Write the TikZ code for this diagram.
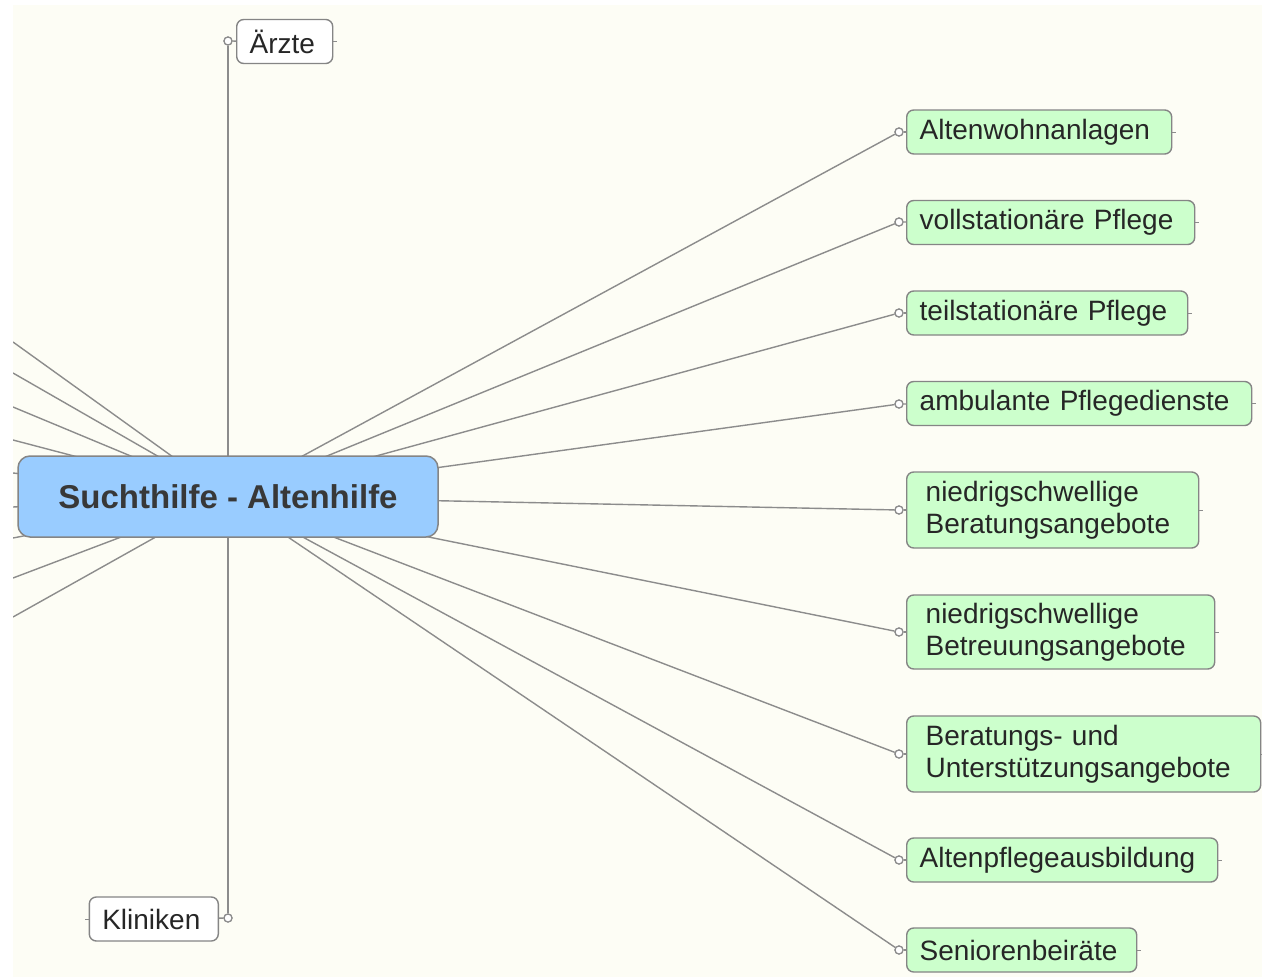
\documentclass[tikz,border=0pt]{standalone}
\usepackage{fontspec}
\setmainfont{Liberation Sans}
\definecolor{bgcream}{HTML}{FDFDF5}
\definecolor{linegray}{HTML}{8C8C8C}
\definecolor{boxgray}{HTML}{858585}
\definecolor{greenfill}{HTML}{CCFFCC}
\definecolor{bluefill}{HTML}{99CCFF}
\definecolor{txt}{HTML}{262626}
\tikzset{
  conn/.style={draw=linegray, line width=1.4pt},
  child/.style={draw=boxgray, fill=greenfill, line width=1.4pt, rounded corners=7pt,
    anchor=west, inner xsep=13pt, inner ysep=0pt, minimum height=44pt,
    align=left, text=txt, font=\fontsize{28}{32}\selectfont},
  twoline/.style={inner xsep=19pt, minimum height=76pt},
  plainbox/.style={child, fill=white},
  knob/.style={circle, draw=linegray, fill=white, line width=1.2pt, inner sep=0pt, minimum size=8pt},
  centerbox/.style={draw=boxgray, fill=bluefill, line width=1.5pt, rounded corners=12pt,
    minimum width=420pt, minimum height=81pt, inner sep=0pt, text=black!78,
    font=\fontsize{33}{38}\selectfont\bfseries}
}
\begin{document}
\begin{tikzpicture}[x=1pt,y=-1pt]
\useasboundingbox (0,0) rectangle (1262,977);
\fill[white] (0,0) rectangle (1262,977);
\fill[bgcream] (13,5) rectangle (1262,977);

% left free ends (off-picture nodes)
\coordinate (l1) at (13,342);
\coordinate (l2) at (13,373);
\coordinate (l3) at (13,407);
\coordinate (l4) at (13,440);
\coordinate (l5) at (13,473);
\coordinate (l6) at (13,507);
\coordinate (l7) at (13,538);
\coordinate (l8) at (13,578);
\coordinate (l9) at (13,617);

\begin{scope}
\clip (13,5) rectangle (1262,977);
% knobs
\node[knob] (k0) at (228,41) {};
\node[knob] (kk) at (228,918) {};
\node[knob] (k1) at (899,132) {};
\node[knob] (k2) at (899,222) {};
\node[knob] (k3) at (899,313) {};
\node[knob] (k4) at (899,404) {};
\node[knob] (k5) at (899,510) {};
\node[knob] (k6) at (899,632) {};
\node[knob] (k7) at (899,754) {};
\node[knob] (k8) at (899,860) {};
\node[knob] (k9) at (899,950) {};

\coordinate (cc) at (228,496.5);
\foreach \t in {l1,l2,l3,l4,l5,l6,l7,l8,l9,k0,kk,k1,k2,k3,k4,k5,k6,k7,k8,k9}
  \draw[conn] (cc) -- (\t);

% redraw knobs over lines
\foreach \t/\p in {k0/{228,41},kk/{228,918},k1/{899,132},k2/{899,222},k3/{899,313},k4/{899,404},k5/{899,510},k6/{899,632},k7/{899,754},k8/{899,860},k9/{899,950}}
  \node[knob] at (\p) {};

\node[centerbox] (c) at (228,496.5) {Suchthilfe - Altenhilfe};

% top and bottom plain boxes
\node[plainbox, text width=70pt] (arzte) at (236,41.5) {Ärzte};
\node[plainbox, anchor=east, text width=103pt] (klin) at (219,919) {Kliniken};

% right children
\node[child, text width=239pt] (n1) at (906,132) {Altenwohnanlagen};
\node[child, text width=262pt] (n2) at (906,222.5) {vollstationäre Pflege};
\node[child, text width=255pt] (n3) at (906,313) {teilstationäre Pflege};
\node[child, text width=319pt] (n4) at (906,403.5) {ambulante Pflegedienste};
\node[child, twoline, text width=254pt] (n5) at (906,510) {niedrigschwellige\\Beratungsangebote};
\node[child, twoline, minimum height=74pt, text width=270pt] (n6) at (906,632) {niedrigschwellige\\Betreuungsangebote};
\node[child, twoline, text width=316pt] (n7) at (906,754) {Beratungs- und\\Unterstützungsangebote};
\node[child, text width=285pt] (n8) at (906,860) {Altenpflegeausbildung};
\node[child, text width=204pt] (n9) at (906,950) {Seniorenbeiräte};

% knob-to-box links
\draw[conn] (k0) -- (arzte);
\draw[conn] (kk) -- (klin);
\foreach \i in {1,...,9} \draw[conn] (k\i) -- (n\i);

% right/left ticks
\foreach \n in {arzte,n1,n2,n3,n4,n5,n6,n7,n8,n9}
  \draw[conn, line width=1pt] (\n.east) -- ++(4,0);
\draw[conn, line width=1pt] (klin.west) -- ++(-4,0);
\end{scope}
\end{tikzpicture}
\end{document}
